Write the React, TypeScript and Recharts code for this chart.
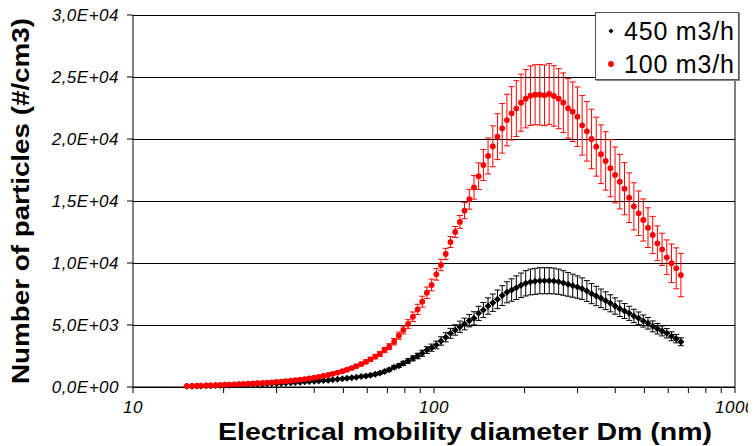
import React from 'react';
import { ScatterChart, Scatter, XAxis, YAxis, CartesianGrid, ErrorBar, ReferenceLine } from 'recharts';

const FONT = '"Liberation Sans", Arial, Helvetica, sans-serif';

// Electrical mobility diameter channels (nm)
const DIAMETERS = [
  15.1, 15.7, 16.3, 16.8, 17.5, 18.1, 18.8, 19.5, 20.2, 20.9,
  21.7, 22.5, 23.3, 24.1, 25.0, 25.9, 26.9, 27.9, 28.9, 30.0,
  31.1, 32.2, 33.4, 34.6, 35.9, 37.2, 38.5, 40.0, 41.4, 42.9,
  44.5, 46.1, 47.8, 49.6, 51.4, 53.3, 55.2, 57.3, 59.4, 61.5,
  63.8, 66.1, 68.5, 71.0, 73.7, 76.4, 79.1, 82.0, 85.1, 88.2,
  91.4, 94.7, 98.2, 101.8, 105.5, 109.4, 113.4, 117.6, 121.9, 126.3,
  131.0, 135.8, 140.7, 145.9, 151.2, 156.8, 162.5, 168.5, 174.7, 181.1,
  187.7, 194.6, 201.7, 209.1, 216.7, 224.7, 232.9, 241.4, 250.3, 259.5,
  269.0, 278.8, 289.0, 299.6, 310.6, 322.0, 333.8, 346.0, 358.7, 371.8,
  385.4, 399.5, 414.2, 429.4, 445.1, 461.4, 478.3, 495.8, 514.0, 532.8,
  552.3, 572.5, 593.5, 615.3, 637.8, 661.2,
];

// 450 m3/h series (#/cm3)
const N_450 = [
  60, 65, 75, 85, 95, 105, 115, 125, 140, 150,
  160, 175, 185, 200, 215, 230, 245, 260, 275, 290,
  310, 330, 350, 370, 390, 415, 440, 465, 490, 520,
  550, 585, 620, 660, 700, 745, 790, 840, 895, 955,
  1020, 1120, 1250, 1400, 1590, 1720, 1910, 2100, 2310, 2500,
  2720, 2980, 3170, 3390, 3710, 4010, 4330, 4600, 4860, 5080,
  5350, 5540, 5940, 6210, 6530, 6800, 7070, 7370, 7640, 7820,
  8010, 8200, 8360, 8470, 8520, 8570, 8570, 8570, 8550, 8490,
  8390, 8280, 8170, 8060, 7930, 7740, 7530, 7340, 7150, 6960,
  6750, 6530, 6310, 6130, 5940, 5730, 5540, 5320, 5140, 4890,
  4700, 4520, 4330, 4090, 3900, 3650,
];
const ERR_450 = [
  5, 5, 6, 7, 8, 8, 9, 10, 11, 12,
  13, 14, 15, 16, 17, 18, 20, 21, 22, 23,
  25, 26, 28, 30, 31, 33, 35, 37, 39, 42,
  44, 47, 50, 53, 56, 60, 63, 67, 72, 76,
  82, 88, 100, 115, 130, 145, 160, 180, 200, 220,
  245, 270, 290, 310, 340, 370, 400, 420, 450, 470,
  500, 530, 570, 610, 660, 700, 750, 800, 850, 900,
  950, 990, 1020, 1040, 1050, 1050, 1050, 1050, 1040, 1020,
  990, 960, 930, 900, 870, 840, 810, 780, 750, 720,
  690, 660, 630, 600, 570, 540, 510, 490, 470, 440,
  420, 400, 380, 360, 340, 320,
];

// 100 m3/h series (#/cm3)
const N_100 = [
  75, 85, 95, 105, 120, 135, 150, 165, 180, 195,
  210, 225, 245, 265, 285, 305, 330, 355, 380, 410,
  440, 470, 505, 545, 590, 640, 695, 755, 820, 890,
  970, 1060, 1160, 1270, 1390, 1530, 1680, 1850, 2030, 2230,
  2450, 2660, 2980, 3250, 3650, 4140, 4600, 5080, 5670, 6260,
  6880, 7600, 8230, 9090, 9840, 10730, 11690, 12500, 13310, 14220,
  15140, 16100, 17000, 17900, 18630, 19410, 20190, 20860, 21530, 22070,
  22450, 22930, 23250, 23490, 23570, 23570, 23520, 23630, 23470, 23250,
  22930, 22470, 22200, 21800, 21100, 20620, 20000, 19380, 18770, 18230,
  17640, 17100, 16560, 15990, 15270, 14570, 14010, 13470, 12850, 12260,
  11590, 11100, 10460, 9980, 9570, 9030,
];
const ERR_100 = [
  8, 8, 9, 10, 11, 12, 13, 14, 15, 16,
  17, 18, 20, 21, 23, 25, 27, 29, 31, 33,
  36, 38, 41, 44, 48, 52, 56, 61, 66, 72,
  78, 85, 93, 100, 110, 120, 130, 140, 150, 165,
  180, 195, 215, 235, 260, 290, 320, 350, 380, 410,
  440, 460, 470, 470, 460, 450, 440, 440, 520, 650,
  800, 950, 1075, 1250, 1450, 1650, 1850, 2000, 2080, 2150,
  2250, 2300, 2350, 2400, 2420, 2440, 2450, 2450, 2440, 2420,
  2400, 2400, 2400, 2400, 2400, 2400, 2400, 2380, 2370, 2350,
  2300, 2250, 2200, 2100, 2000, 1900, 1800, 1700, 1600, 1500,
  1400, 1300, 1400, 1550, 1650, 1750,
];

const X_MAJOR = [10, 100, 1000];
const X_MINOR = [20, 30, 40, 50, 60, 70, 80, 90, 200, 300, 400, 500, 600, 700, 800, 900];
const X_TICKS = [...X_MAJOR, ...X_MINOR].sort((a, b) => a - b);
const Y_TICKS = [0, 5000, 10000, 15000, 20000, 25000, 30000];
const Y_TICK_LABELS = ['0,0E+00', '5,0E+03', '1,0E+04', '1,5E+04', '2,0E+04', '2,5E+04', '3,0E+04'];

const SERIES_NAMES = ['450 m3/h', '100 m3/h'];
const X_TITLE = 'Electrical mobility diameter Dm (nm)';
const Y_TITLE = 'Number of particles (#/cm3)';

const rows450 = DIAMETERS.map((d, i) => ({ d, n: N_450[i], e: ERR_450[i] }));
const rows100 = DIAMETERS.map((d, i) => ({ d, n: N_100[i], e: ERR_100[i] }));

const Diamond = (props: any) => {
  const { cx, cy } = props;
  if (cx == null || cy == null) return <g />;
  const s = 3.5;
  return <path d={`M${cx},${cy - s}L${cx + s},${cy}L${cx},${cy + s}L${cx - s},${cy}Z`} fill="#000" />;
};

const Dot = (props: any) => {
  const { cx, cy } = props;
  if (cx == null || cy == null) return <g />;
  return <circle cx={cx} cy={cy} r={2.9} fill="#ff0000" />;
};

const XTick = (props: any) => {
  const { x, y, payload } = props;
  if (!X_MAJOR.includes(payload.value)) return <g />;
  return (
    <text x={x} y={y} dy={18} textAnchor="middle" fill="#000" fontSize={17} fontStyle="italic" fontFamily={FONT} letterSpacing={0.5}>
      {String(payload.value)}
    </text>
  );
};

const XTitle = (props: any) => {
  const vb = props.viewBox || {};
  const cx = vb.x + vb.width / 2 + 31;
  return (
    <text x={cx} y={vb.y + vb.height - 6} textAnchor="middle" fill="#000" fontSize={24} fontWeight="bold" fontFamily={FONT} textLength={494} lengthAdjust="spacingAndGlyphs">
      {X_TITLE}
    </text>
  );
};

const YTitle = (props: any) => {
  const vb = props.viewBox || {};
  const cx = 20;
  const cy = vb.y + vb.height / 2;
  return (
    <text x={cx} y={cy} transform={`rotate(-90, ${cx}, ${cy})`} textAnchor="middle" dominantBaseline="central" fill="#000" fontSize={24} fontWeight="bold" fontFamily={FONT} textLength={366} lengthAdjust="spacingAndGlyphs">
      {Y_TITLE}
    </text>
  );
};

const legendRow = (top: number): React.CSSProperties => ({
  position: 'absolute',
  left: 0,
  top,
  height: 30,
  display: 'flex',
  alignItems: 'center',
  whiteSpace: 'nowrap',
});

export default function App() {
  return (
    <div style={{ position: 'relative', width: 756, height: 446, margin: '-8px 0 0 -8px' }}>
      <ScatterChart width={756} height={446} margin={{ top: 15, right: 21, bottom: 0, left: 0 }}>
        <CartesianGrid horizontal vertical={false} stroke="#000" shapeRendering="crispEdges" />
        <XAxis
          dataKey="d"
          type="number"
          scale="log"
          domain={[10, 1000]}
          allowDataOverflow
          ticks={X_TICKS}
          interval={0}
          tick={<XTick />}
          tickSize={6}
          height={59}
          axisLine={{ stroke: '#000' }}
          tickLine={{ stroke: '#000' }}
          label={<XTitle />}
        />
        <YAxis
          dataKey="n"
          type="number"
          domain={[0, 30000]}
          ticks={Y_TICKS}
          interval={0}
          width={133}
          tickSize={6}
          tickMargin={8}
          axisLine={{ stroke: '#000' }}
          tickLine={{ stroke: '#000' }}
          tickFormatter={(v: number) => Y_TICK_LABELS[Y_TICKS.indexOf(v)]}
          tick={{ fill: '#000', fontSize: 17, fontStyle: 'italic', fontFamily: FONT, letterSpacing: 0.5 }}
          label={<YTitle />}
        />
        <ReferenceLine x={1000} stroke="#000" />
        <Scatter name={SERIES_NAMES[0]} data={rows450} fill="#000" shape={Diamond} isAnimationActive={false}>
          <ErrorBar dataKey="e" direction="y" width={3} stroke="#000" strokeWidth={1} />
        </Scatter>
        <Scatter name={SERIES_NAMES[1]} data={rows100} fill="#ff0000" shape={Dot} isAnimationActive={false}>
          <ErrorBar dataKey="e" direction="y" width={3} stroke="#ff0000" strokeWidth={1} />
        </Scatter>
      </ScatterChart>
      <div
        style={{
          position: 'absolute',
          left: 595,
          top: 12,
          width: 144,
          height: 68,
          background: '#fff',
          border: '1px solid #555',
          boxShadow: '1px 1px 0 #888',
          fontFamily: FONT,
          fontSize: 25,
          letterSpacing: 0.8,
          color: '#000',
          boxSizing: 'border-box',
          overflow: 'hidden',
        }}
      >
        <div style={legendRow(3)}>
          <svg width={28} height={30}>
            <path d="M15,12.5L17.5,15L15,17.5L12.5,15Z" fill="#000" />
          </svg>
          <span style={{ lineHeight: '30px' }}>{SERIES_NAMES[0]}</span>
        </div>
        <div style={legendRow(36)}>
          <svg width={28} height={30}>
            <circle cx={15} cy={15} r={2.9} fill="#ff0000" />
          </svg>
          <span style={{ lineHeight: '30px' }}>{SERIES_NAMES[1]}</span>
        </div>
      </div>
    </div>
  );
}
